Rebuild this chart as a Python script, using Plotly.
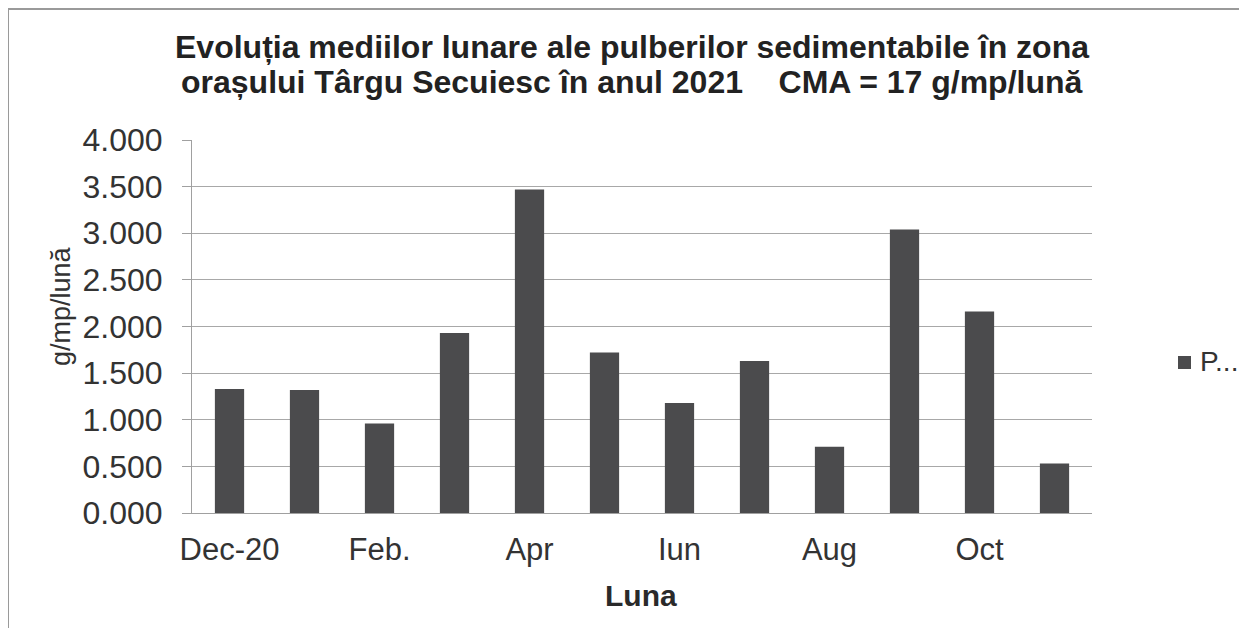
import plotly.graph_objects as go

months = ["Dec-20", "Ian.", "Feb.", "Mar.", "Apr", "Mai", "Iun", "Iul", "Aug", "Sep", "Oct", "Nov"]
values = [1.33, 1.32, 0.96, 1.93, 3.47, 1.72, 1.18, 1.63, 0.71, 3.04, 2.16, 0.53]
shown_ticks = ["Dec-20", "Feb.", "Apr", "Iun", "Aug", "Oct"]
y_ticks = [0, 0.5, 1, 1.5, 2, 2.5, 3, 3.5, 4]
y_tick_text = ["0.000", "0.500", "1.000", "1.500", "2.000", "2.500", "3.000", "3.500", "4.000"]
series_name = "P..."
title_lines = ["Evoluția mediilor lunare ale pulberilor sedimentabile în zona",
               "orașului Târgu Secuiesc în anul 2021    CMA = 17 g/mp/lună"]

FONT = "Liberation Sans, Arial, sans-serif"
BAR_COLOR = "#4b4b4d"
# the page body adds an 8px margin, so the figure is laid out 8px in from the window
W, H = 1231, 620
L, R, T, B = 184, 147, 132, 115
pw, ph = W - L - R, H - T - B


def px_x(p):
    return (p - L) / pw


def px_y(p):
    return (H - B - p) / ph


fig = go.Figure()
fig.add_trace(go.Bar(x=months, y=values, name=series_name, showlegend=False,
                     marker=dict(color=BAR_COLOR, line=dict(width=0))))

# outer frame of the chart area (partly cut off on the right and bottom)
fig.add_shape(type="rect", xref="paper", yref="paper",
              x0=px_x(0), x1=px_x(1300), y0=px_y(700), y1=px_y(1),
              line=dict(color="#9a9a9a", width=2), fillcolor="rgba(0,0,0,0)", layer="below")

# legend (drawn by hand so it does not shrink the plot area)
fig.add_shape(type="rect", xref="paper", yref="paper",
              x0=px_x(1170), x1=px_x(1183), y0=px_y(361), y1=px_y(348),
              line=dict(width=0), fillcolor=BAR_COLOR)
fig.add_annotation(text=series_name, xref="paper", yref="paper",
                   x=px_x(1190), y=px_y(353), xanchor="left", yanchor="middle",
                   showarrow=False,
                   font=dict(size=28, family=FONT, color="#333333"))

# two-line chart title
for line, yc in zip(title_lines, [39, 74]):
    fig.add_annotation(text="<b>" + line + "</b>", xref="paper", yref="paper",
                       x=px_x(624), y=px_y(yc), xanchor="center", yanchor="middle",
                       showarrow=False,
                       font=dict(size=32, family=FONT, color="#222222"))

fig.add_annotation(text="g/mp/lună", xref="paper", yref="paper",
                   x=px_x(53), y=px_y(298), xanchor="center", yanchor="middle",
                   textangle=-90, showarrow=False,
                   font=dict(size=27, family=FONT, color="#333333"))
fig.add_annotation(text="<b>Luna</b>", xref="paper", yref="paper",
                   x=px_x(633), y=px_y(587), xanchor="center", yanchor="middle",
                   showarrow=False,
                   font=dict(size=30, family=FONT, color="#2a2a2a"))

fig.update_layout(
    width=W, height=H,
    margin=dict(l=L, r=R, t=T, b=B),
    paper_bgcolor="white", plot_bgcolor="white",
    bargap=0.61,
    font=dict(family=FONT, color="#333333"),
    showlegend=False,
    xaxis=dict(
        tickmode="array", tickvals=shown_ticks, ticktext=shown_ticks,
        tickfont=dict(size=31, family=FONT, color="#333333"),
        ticklabelstandoff=9,
        showline=True, linecolor="#a0a0a0", linewidth=1,
        ticks="", showgrid=False,
    ),
    yaxis=dict(
        range=[0, 4], tickmode="array", tickvals=y_ticks, ticktext=y_tick_text,
        tickfont=dict(size=32, family=FONT, color="#333333"),
        ticklabelstandoff=13,
        showline=True, linecolor="#a0a0a0", linewidth=1,
        ticks="outside", ticklen=9, tickcolor="#a0a0a0",
        showgrid=True, gridcolor="#a8a8a8", gridwidth=1,
        zeroline=False,
    ),
)

fig.write_html("out.html")
